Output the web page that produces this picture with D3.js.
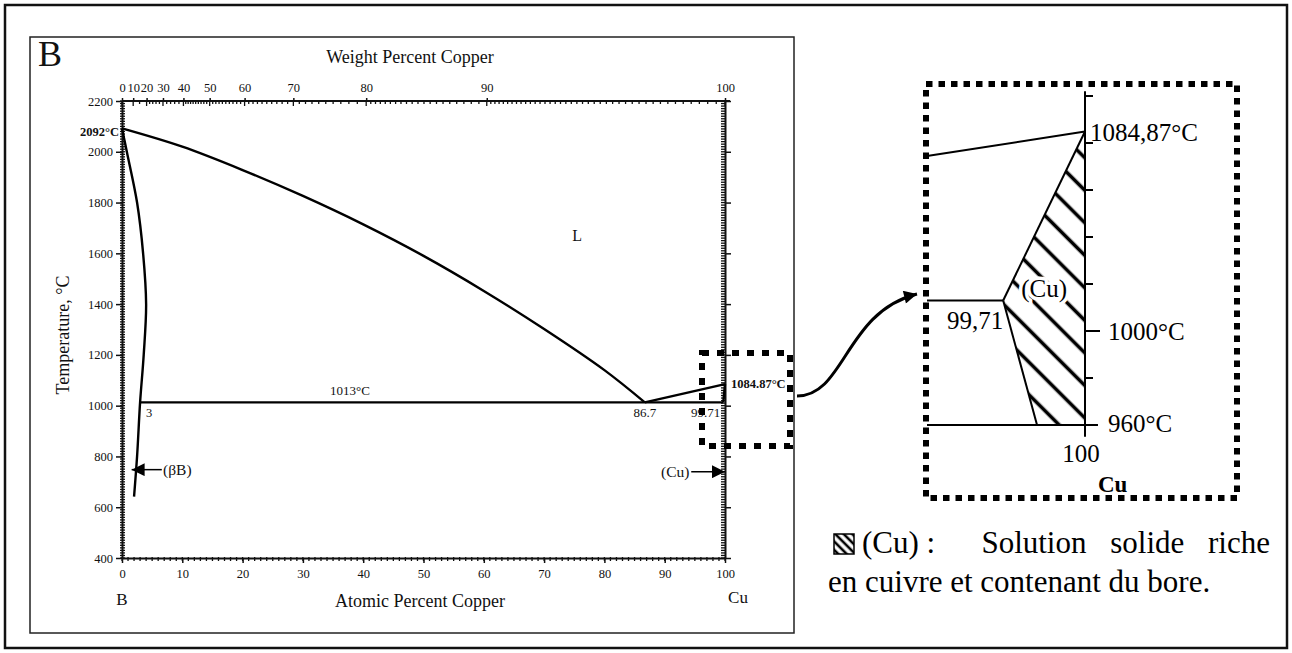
<!DOCTYPE html>
<html>
<head>
<meta charset="utf-8">
<script src="https://cdn.jsdelivr.net/npm/d3@7"></script>
<style>
body { margin: 0; background: #fff; }
svg { display: block; font-family: "Liberation Serif", "Times New Roman", serif; }
</style>
</head>
<body>
<svg id="chart" width="1292" height="653"></svg>
<script>
// phase boundaries, [atomic % Cu, temperature °C]
const liquidusB = [[0,2092],[10,2020],[20,1928],[30,1826],[40,1714],[50,1590],[60,1452],[70,1302],[80,1140],[86.7,1013]];
const solidusB = [[0,2092],[0.8,2000],[2.5,1800],[3.5,1600],[4.0,1400],[3.6,1200],[3.0,1013],[2.5,800],[2.0,642]];
const eutectic = [[3,1013],[99.71,1013]];
const liquidusCu = [[86.7,1013],[100,1084.87]];
const solidusCu = [[99.71,1013],[100,1084.87]];

const tempTicks = [400,600,800,1000,1200,1400,1600,1800,2000,2200];
const atTicks = [0,10,20,30,40,50,60,70,80,90,100];
const wtTicks = [0,10,20,30,40,50,60,70,80,90,100];

// enlarged copper corner
const insetLiquidus = [[99.44,1074.5],[100,1084.87]];
const insetEutectic = [[99.44,1013],[99.71,1013]];
const insetSolidus = [[99.71,1013],[100,1084.87]];
const insetSolvus = [[99.71,1013],[99.83,960]];
const insetBase = [[99.44,960],[100.046,960]];
const insetRegion = [[99.71,1013],[100,1084.87],[100,960],[99.83,960]];
const insetTicks = [960,980,1000,1020,1040,1060,1080,1100];

const svg = d3.select("#chart");
const x = d3.scaleLinear().domain([0,100]).range([122,725]);
const y = d3.scaleLinear().domain([400,2200]).range([558,101]);
const xi = d3.scaleLinear().domain([99.44,100]).range([927,1085]);
const yi = d3.scaleLinear().domain([960,1000]).range([425,331]);

const M_CU = 63.546, M_B = 10.811;
function wtToAt(w) {
    var c = w / M_CU, b = (100 - w) / M_B;
    return 100 * c / (c + b);
}

var defs = svg.append("defs");
defs.append("pattern").attr("id","hatch").attr("patternUnits","userSpaceOnUse")
    .attr("width",23).attr("height",23).attr("patternTransform","rotate(45)")
    .append("line").attr("x1",0).attr("y1",11.5).attr("x2",23).attr("y2",11.5)
    .attr("stroke","#000").attr("stroke-width",3.6);
defs.append("pattern").attr("id","hatchSmall").attr("patternUnits","userSpaceOnUse")
    .attr("width",6).attr("height",6).attr("patternTransform","rotate(45)")
    .append("line").attr("x1",0).attr("y1",3).attr("x2",6).attr("y2",3)
    .attr("stroke","#000").attr("stroke-width",2.6);
function marker(id, w, h) {
    defs.append("marker").attr("id",id).attr("viewBox","0 -5 10 10")
        .attr("refX",10).attr("refY",0).attr("markerUnits","userSpaceOnUse")
        .attr("markerWidth",w).attr("markerHeight",h).attr("orient","auto")
        .append("path").attr("d","M0,-5L10,0L0,5Z").attr("fill","#000");
}
marker("head", 14, 13);
marker("bighead", 16, 13);

// frames
svg.append("rect").attr("x",5).attr("y",5).attr("width",1282).attr("height",643)
    .attr("fill","none").attr("stroke","#111").attr("stroke-width",2.5);
svg.append("rect").attr("x",30).attr("y",37).attr("width",764).attr("height",596)
    .attr("fill","none").attr("stroke","#222").attr("stroke-width",1.5);

function style_axis(g, size) {
    g.attr("font-family",null).attr("font-size",size);
    g.selectAll("text").attr("fill","#111");
    g.selectAll("line").attr("stroke","#111").attr("stroke-width",1.5);
    g.select(".domain").attr("stroke","#111").attr("stroke-width",2);
}

function minor_ticks(values, horizontal, pos, a, b) {
    svg.append("g").selectAll("line").data(values).enter().append("line")
        .attr("x1", d => horizontal ? d : pos + a)
        .attr("x2", d => horizontal ? d : pos + b)
        .attr("y1", d => horizontal ? pos + a : d)
        .attr("y2", d => horizontal ? pos + b : d)
        .attr("stroke","#111").attr("stroke-width",1.3);
}

// left axis
var gl = svg.append("g").attr("transform","translate(122,0)")
    .call(d3.axisLeft(y).tickValues(tempTicks).tickSize(6).tickSizeOuter(0).tickPadding(3).tickFormat(d3.format("d")));
style_axis(gl, 12.5);
minor_ticks(d3.range(400,2201,10).map(y), false, 122, -2, 3);

// right axis
var gr = svg.append("g").attr("transform","translate(725,0)")
    .call(d3.axisRight(y).tickValues(tempTicks).tickSize(6).tickSizeOuter(0).tickFormat(""));
style_axis(gr, 12.5);
minor_ticks(d3.range(400,2201,10).map(y), false, 725, -4, 1);

// bottom axis
var gb = svg.append("g").attr("transform","translate(0,558)")
    .call(d3.axisBottom(x).tickValues(atTicks).tickSize(5).tickSizeOuter(0).tickPadding(6));
style_axis(gb, 12.5);
minor_ticks(d3.range(0,101,1).map(x), true, 558, -1, 3);

// top axis, weight percent
var gt = svg.append("g").attr("transform","translate(0,101)")
    .call(d3.axisTop(x).tickValues(wtTicks.map(wtToAt)).tickSize(3).tickSizeOuter(0).tickPadding(6)
        .tickFormat((d,i) => wtTicks[i]));
style_axis(gt, 12.5);
gt.select(".domain").attr("d","M" + x(0) + ",0H" + (x(100) + 5));
minor_ticks(wtTicks.map(w => x(wtToAt(w))), true, 101, 0, 5);
var wtMinor = [].concat(d3.range(15,20,5), d3.range(22,40,2), d3.range(41,80,1),
    d3.range(80.5,90,0.5), d3.range(90.25,100,0.25)).filter(w => w % 10 !== 0);
minor_ticks(wtMinor.map(w => x(wtToAt(w))), true, 101, -1, 3);

// phase boundaries
var line = d3.line().x(d => x(d[0])).y(d => y(d[1]));
var curve = d3.line().x(d => x(d[0])).y(d => y(d[1])).curve(d3.curveCatmullRom.alpha(0.5));
[[liquidusB, curve],[solidusB, curve],[eutectic, line],[liquidusCu, line],[solidusCu, line]]
    .forEach(function (p) {
        svg.append("path").attr("d", p[1](p[0])).attr("fill","none")
            .attr("stroke","#000").attr("stroke-width",2.4);
    });

function label(px, py, text, size, opts) {
    opts = opts || {};
    return svg.append("text").attr("x",px).attr("y",py).text(text)
        .attr("font-size",size).attr("fill","#111")
        .attr("font-weight",opts.bold ? "bold" : null)
        .attr("text-anchor",opts.anchor || "start");
}

label(119, y(2092) + 8, "2092°C", 12.5, {bold:true, anchor:"end"});
label(x(34.5), y(1013) - 7, "1013°C", 13);
label(x(4), y(1013) + 15, "3", 12.5);
label(x(86.7), y(1013) + 15, "86.7", 13, {anchor:"middle"});
label(x(99.2), y(1013) + 15, "99.71", 13, {anchor:"end"});
label(x(100) + 6, y(1084.87) + 4, "1084.87°C", 12.5, {bold:true});
label(x(75.5), y(1650), "L", 16, {anchor:"middle"});
label(38, 66, "B", 36);
label(410, 63, "Weight Percent Copper", 18, {anchor:"middle"});
label(420, 607, "Atomic Percent Copper", 18, {anchor:"middle"});
label(x(0), 605, "B", 17, {anchor:"middle"});
label(x(100) + 13, 603, "Cu", 17, {anchor:"middle"});
svg.append("text").attr("transform","translate(69,335) rotate(-90)").attr("text-anchor","middle")
    .attr("font-size",18).attr("fill","#111").text("Temperature, °C");

// phase arrows
svg.append("line").attr("x1",x(6.6)).attr("x2",x(1.6)).attr("y1",y(748)).attr("y2",y(748))
    .attr("stroke","#000").attr("stroke-width",1.5).attr("marker-end","url(#head)");
label(x(6.8), y(748) + 5, "(βB)", 15.5);
svg.append("line").attr("x1",x(94.4)).attr("x2",x(100)).attr("y1",y(740)).attr("y2",y(740))
    .attr("stroke","#000").attr("stroke-width",1.5).attr("marker-end","url(#head)");
label(x(94.1), y(740) + 5, "(Cu)", 15.5, {anchor:"end"});

// zoom window and arrow
svg.append("rect").attr("x",702).attr("y",353).attr("width",88).attr("height",93)
    .attr("fill","none").attr("stroke","#000").attr("stroke-width",6).attr("stroke-dasharray","7,8");
svg.append("path").attr("d","M797,396 C845,396 845,312 917,294").attr("fill","none")
    .attr("stroke","#000").attr("stroke-width",3).attr("marker-end","url(#bighead)");

// inset
svg.append("rect").attr("x",926).attr("y",84).attr("width",311).attr("height",414)
    .attr("fill","none").attr("stroke","#000").attr("stroke-width",6).attr("stroke-dasharray","6.5,6");
var iline = d3.line().x(d => xi(d[0])).y(d => yi(d[1]));
svg.append("path").attr("d", iline(insetRegion) + "Z").attr("fill","url(#hatch)");
[insetLiquidus, insetEutectic, insetSolidus, insetSolvus, insetBase].forEach(function (p) {
    svg.append("path").attr("d", iline(p)).attr("fill","none").attr("stroke","#000").attr("stroke-width",2);
});
svg.append("line").attr("x1",xi(100)).attr("x2",xi(100)).attr("y1",yi(1102)).attr("y2",yi(955))
    .attr("stroke","#000").attr("stroke-width",2);
svg.append("g").selectAll("line").data(insetTicks.filter(t => t !== 960)).enter().append("line")
    .attr("x1",xi(100)).attr("x2",d => xi(100) + (d === 1000 ? 15 : 8))
    .attr("y1",d => yi(d)).attr("y2",d => yi(d))
    .attr("stroke","#000").attr("stroke-width",2);

function ilabel(px, py, text, opts) {
    return label(px, py, text, 25, opts).attr("fill","#000");
}
ilabel(xi(100) + 5, yi(1084.87) + 9, "1084,87°C");
ilabel(xi(99.855), yi(1015) + 1, "(Cu)", {anchor:"middle"})
    .attr("stroke","#fff").attr("stroke-width",7).attr("paint-order","stroke");
ilabel(xi(99.71), yi(1013) + 29, "99,71", {anchor:"end"});
ilabel(xi(100) + 23, yi(1000) + 9, "1000°C");
ilabel(xi(100) + 23, yi(960) + 7, "960°C");
ilabel(xi(100) - 4, 462, "100", {anchor:"middle"});
label(xi(100) + 13, 492, "Cu", 23, {bold:true}).attr("fill","#000");

// legend
svg.append("rect").attr("x",834).attr("y",534).attr("width",20).attr("height",20)
    .attr("fill","url(#hatchSmall)").attr("stroke","#000").attr("stroke-width",1.5);
label(862, 553, "(Cu) :", 31).attr("fill","#000");
label(1270, 553, "Solution solide riche", 31, {anchor:"end"}).attr("fill","#000").attr("word-spacing",16);
label(828, 592, "en cuivre et contenant du bore.", 31).attr("fill","#000");
</script>
</body>
</html>
